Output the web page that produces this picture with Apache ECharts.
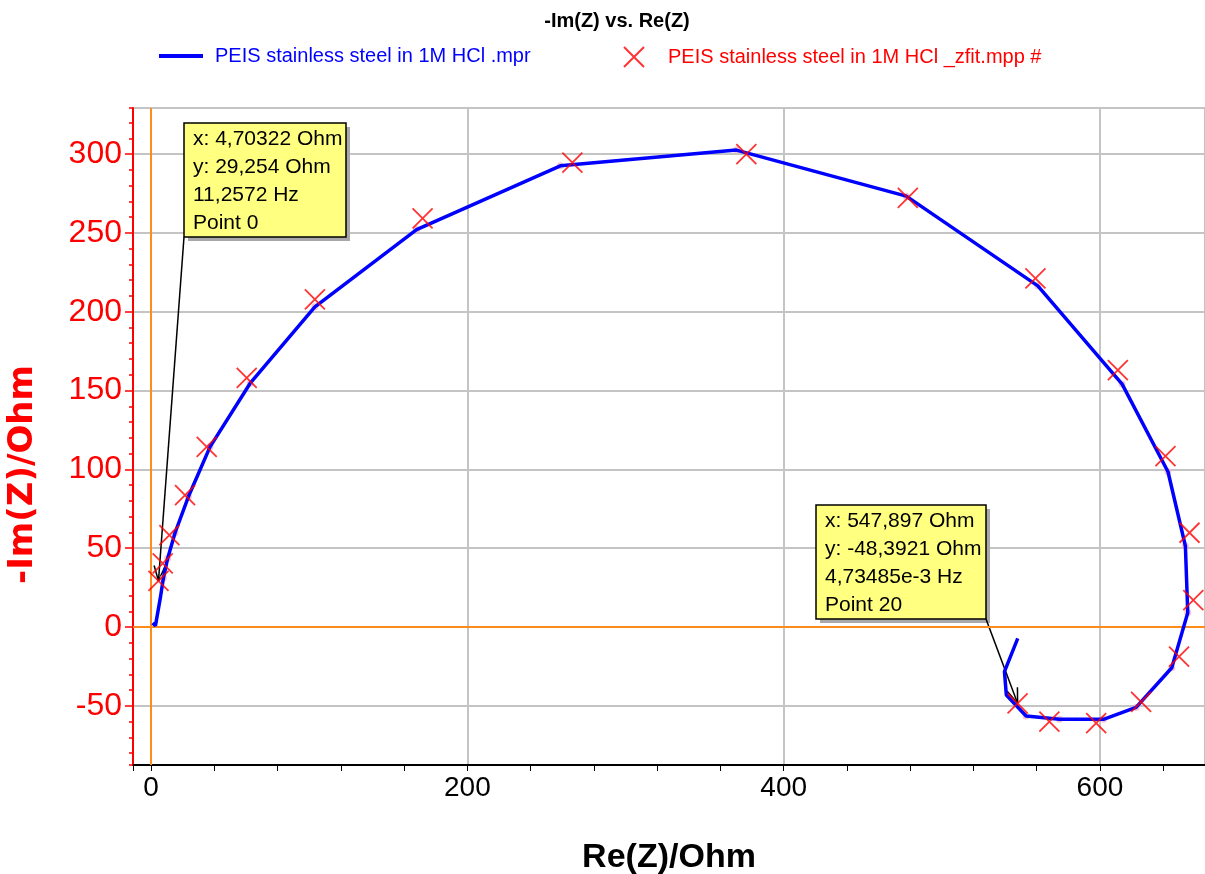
<!DOCTYPE html>
<html>
<head>
<meta charset="utf-8">
<title>-Im(Z) vs. Re(Z)</title>
<script src="https://cdn.jsdelivr.net/npm/echarts@6/dist/echarts.min.js"></script>
<style>
  html, body { margin: 0; padding: 0; background: #ffffff; }
  #chart { width: 1205px; height: 874px; }
</style>
</head>
<body>
<div id="chart"></div>
<script>
// measured spectrum, Re(Z) and -Im(Z) in Ohm
const measRe = [1.0, 2.8, 5.8, 7.8, 10.5, 15.2, 23.6, 37.3, 62.6, 103.6, 167.9, 258.8, 370.1, 477.5,
  560.7, 614.0, 643.0, 654.0, 655.5, 645.4, 622.8, 602.2, 574.4, 553.3, 540.8, 539.6, 548.0]
const measIm = [2.6, 0.9, 18.0, 30.9, 43.5, 59.8, 82.6, 114.3, 154.5, 203.1, 252.1, 292.5, 302.5, 273.3,
  216.4, 154.1, 98.5, 51.4, 9.0, -25.8, -51.0, -58.5, -58.5, -56.4, -43.1, -28.3, -7.2]
// measured points that line up with the fit frequencies (pink dots)
const matchFrom = 3
const matchTo = 23

// fit result (_zfit), Point 0 .. Point 20
const fitRe = [4.70322, 7.4, 11.6, 21.5, 35.2, 60.5, 103.6, 171.7, 266.4, 376.4, 478.5, 559.2,
  611.3, 641.4, 656.6, 659.0, 650.0, 626.0, 597.6, 568.0, 547.897]
const fitIm = [29.254, 40.4, 58.3, 83.7, 114.3, 158.0, 207.8, 259.2, 294.6, 300.0, 272.2, 221.1,
  163.0, 108.4, 59.8, 17.0, -18.8, -47.4, -61.0, -60.0, -48.3921]

// axis ranges
const xMin = -11.4
const xMax = 666.4
const yMin = -87.5
const yMax = 329.2

const nameMeas = 'PEIS stainless steel in 1M HCl .mpr'
const nameFit = 'PEIS stainless steel in 1M HCl _zfit.mpp #'

// cursor boxes
const tip0Lines = ['x: 4,70322 Ohm', 'y: 29,254 Ohm', '11,2572 Hz', 'Point 0']
const tip20Lines = ['x: 547,897 Ohm', 'y: -48,3921 Ohm', '4,73485e-3 Hz', 'Point 20']

const crossPath = 'path://M0,0L10,10M10,0L0,10'
const font = 'Liberation Sans, Arial, sans-serif'

const chart = echarts.init(document.getElementById('chart'))

const measData = measRe.map((x, i) => [x, measIm[i]])
const matchData = measData.slice(matchFrom, matchTo + 1)
const fitData = fitRe.map((x, i) => [x, fitIm[i]])

const option = {
  backgroundColor: '#ffffff',
  animation: false,
  title: {
    text: '-Im(Z) vs. Re(Z)',
    left: 612,
    textAlign: 'center',
    top: 6,
    textStyle: { fontFamily: font, fontSize: 20, fontWeight: 'bold', color: '#000000' }
  },
  legend: [
    {
      left: 159,
      top: 46,
      padding: 0,
      itemWidth: 44,
      itemHeight: 4,
      icon: 'rect',
      selectedMode: false,
      data: [{ name: nameMeas, itemStyle: { color: '#0000ff' }, textStyle: { color: '#0000ff' } }],
      textStyle: { fontFamily: font, fontSize: 20, padding: [0, 0, 0, 7] }
    },
    {
      left: 623,
      top: 46,
      padding: 0,
      itemWidth: 20,
      itemHeight: 20,
      selectedMode: false,
      data: [{
        name: nameFit,
        icon: crossPath,
        itemStyle: { color: 'rgba(0,0,0,0)', borderColor: '#ff0000', borderWidth: 2 },
        textStyle: { color: '#ff0000' }
      }],
      textStyle: { fontFamily: font, fontSize: 20, padding: [0, 0, 0, 19] }
    }
  ],
  grid: { left: 133, right: 0, top: 108, bottom: 109, outerBoundsMode: 'none' },
  xAxis: [
    {
      type: 'value',
      min: xMin,
      max: xMax,
      splitNumber: 3,
      minInterval: 200,
      maxInterval: 200,
      name: 'Re(Z)/Ohm',
      nameLocation: 'middle',
      nameGap: 76,
      nameTextStyle: { fontFamily: font, fontSize: 34, fontWeight: 'bold', color: '#000000' },
      axisLine: { show: true, onZero: false, lineStyle: { color: '#000000', width: 2 } },
      axisTick: { show: true, length: 6, lineStyle: { color: '#000000', width: 1 } },
      axisLabel: {
        showMinLabel: false, showMaxLabel: false, margin: 9,
        fontFamily: font, fontSize: 28, color: '#000000'
      },
      splitLine: { show: true, lineStyle: { color: '#c4c4c4', width: 2 } }
    },
    {
      // minor ticks every 40 Ohm
      type: 'value',
      position: 'bottom',
      min: xMin,
      max: xMax,
      splitNumber: 17,
      minInterval: 40,
      maxInterval: 40,
      axisLine: { show: false, onZero: false },
      axisTick: { show: true, length: 6, lineStyle: { color: '#000000', width: 1 } },
      axisLabel: { show: false },
      splitLine: { show: false }
    }
  ],
  yAxis: [
    {
      type: 'value',
      min: yMin,
      max: yMax,
      splitNumber: 8,
      minInterval: 50,
      maxInterval: 50,
      name: '-Im(Z)/Ohm',
      nameLocation: 'middle',
      nameGap: 93,
      nameTextStyle: {
        fontFamily: 'DejaVu Sans, sans-serif', fontSize: 34, fontWeight: 'bold', color: '#ff0000',
        padding: [0, 76, 0, 0]
      },
      axisLine: { show: true, onZero: false, lineStyle: { color: '#ff0000', width: 2 } },
      axisTick: { show: true, length: 8, lineStyle: { color: '#ff0000', width: 1.5 } },
      axisLabel: {
        showMinLabel: false, showMaxLabel: false, margin: 11,
        fontFamily: font, fontSize: 32, color: '#ff0000'
      },
      splitLine: { show: true, lineStyle: { color: '#c4c4c4', width: 2 } }
    },
    {
      // minor ticks every 10 Ohm
      type: 'value',
      position: 'left',
      min: yMin,
      max: yMax,
      splitNumber: 40,
      minInterval: 10,
      maxInterval: 10,
      axisLine: { show: false, onZero: false },
      axisTick: { show: true, length: 4, lineStyle: { color: '#ff0000', width: 1.5 } },
      axisLabel: { show: false },
      splitLine: { show: false }
    }
  ],
  series: [
    {
      name: 'match',
      type: 'scatter',
      z: 1,
      symbol: 'circle',
      symbolSize: 7,
      itemStyle: { color: '#f7b6c2' },
      silent: true,
      data: matchData,
      markLine: {
        z: 1,
        silent: true,
        symbol: 'none',
        label: { show: false },
        lineStyle: { color: '#ff8c1a', width: 2, type: 'solid' },
        data: [{ xAxis: 0 }, { yAxis: 0 }]
      }
    },
    {
      name: nameMeas,
      type: 'line',
      z: 3,
      symbol: 'none',
      smooth: false,
      itemStyle: { color: '#0000ff' },
      lineStyle: { color: '#0000ff', width: 3.5 },
      data: measData
    },
    {
      name: nameFit,
      type: 'scatter',
      z: 4,
      symbol: crossPath,
      symbolSize: 20,
      itemStyle: { color: 'rgba(0,0,0,0)', borderColor: '#ff0000', borderWidth: 1.8 },
      data: fitData
    }
  ]
}

chart.setOption(option)

// cursor boxes with arrows pointing at the fit points
function tipGraphic (box, lines, anchor, target) {
  const children = [
    { type: 'rect', shape: { x: box.x + 4, y: box.y + 4, width: box.w, height: box.h }, style: { fill: '#a8a8a8' } },
    { type: 'rect', shape: { x: box.x, y: box.y, width: box.w, height: box.h }, style: { fill: '#ffff80', stroke: '#000000', lineWidth: 1.5 } }
  ]
  lines.forEach((t, i) => {
    children.push({
      type: 'text',
      style: { x: box.x + 9, y: box.y + 16 + i * 28, text: t, fill: '#000000', font: '21px Liberation Sans, Arial, sans-serif', verticalAlign: 'middle' }
    })
  })
  children.push({ type: 'line', shape: { x1: anchor[0], y1: anchor[1], x2: target[0], y2: target[1] }, style: { stroke: '#000000', lineWidth: 1.5 } })
  const ang = Math.atan2(anchor[1] - target[1], anchor[0] - target[0])
  const len = 16
  ;[-0.35, 0.35].forEach(d => {
    children.push({
      type: 'line',
      shape: { x1: target[0], y1: target[1], x2: target[0] + len * Math.cos(ang + d), y2: target[1] + len * Math.sin(ang + d) },
      style: { stroke: '#000000', lineWidth: 1.5 }
    })
  })
  return { type: 'group', z: 10, children }
}

const p0 = chart.convertToPixel({ seriesIndex: 2 }, fitData[0])
const p20 = chart.convertToPixel({ seriesIndex: 2 }, fitData[20])
const box0 = { x: 184, y: 123, w: 162, h: 114 }
const box20 = { x: 816, y: 505, w: 170, h: 114 }

chart.setOption({
  graphic: [
    tipGraphic(box0, tip0Lines, [box0.x, box0.y + box0.h], p0),
    tipGraphic(box20, tip20Lines, [box20.x + box20.w, box20.y + box20.h], p20)
  ]
})
</script>
</body>
</html>
